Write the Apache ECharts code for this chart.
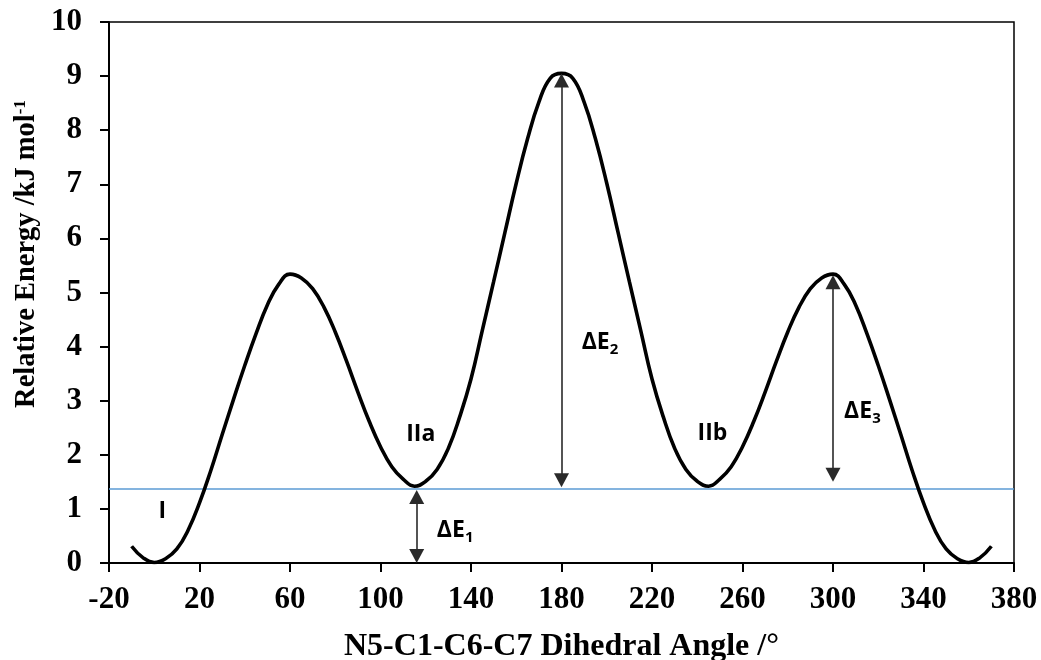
<!DOCTYPE html>
<html>
<head>
<meta charset="utf-8">
<script src="https://cdn.jsdelivr.net/npm/echarts@6/dist/echarts.min.js"></script>
<style>html,body{margin:0;padding:0;background:#fff}#c{width:1041px;height:660px}</style>
</head>
<body>
<div id="c"></div>
<script>
// Dihedral angle (degrees) and relative energy (kJ/mol)
const angles = [-10,-5,0,5,10,15,20,25,30,35,40,45,50,55,60,65,70,75,80,85,90,95,100,105,110,115,120,125,130,135,140,145,150,155,160,165,170,175,180,
  185,190,195,200,205,210,215,220,225,230,235,240,245,250,255,260,265,270,275,280,285,290,295,300,305,310,315,320,325,330,335,340,345,350,355,360,365,370];
const energies = [0.31,0.10,0.01,0.08,0.26,0.61,1.11,1.71,2.37,3.02,3.65,4.24,4.77,5.15,5.34,5.27,5.07,4.73,4.27,3.73,3.16,2.62,2.15,1.78,1.55,1.42,1.51,1.73,2.12,2.70,3.40,4.30,5.20,6.11,7.02,7.84,8.52,8.96,9.05,
  8.96,8.52,7.84,7.02,6.11,5.20,4.30,3.40,2.70,2.12,1.73,1.51,1.42,1.55,1.78,2.15,2.62,3.16,3.73,4.27,4.73,5.07,5.27,5.34,5.15,4.77,4.24,3.65,3.02,2.37,1.71,1.11,0.61,0.26,0.08,0.01,0.10,0.31];
// Horizontal reference level (blue line)
const refX = [-20, 380];
const refY = [1.37, 1.37];
// Double-headed arrows: [angle, fromEnergy, toEnergy] (arrow-head centres)
const arrows = [[116, 0.13, 1.22], [180, 1.53, 8.92], [300, 1.63, 5.19]];
// Text annotations
const noteText = ['I', 'IIa', 'IIb', '{b|ΔE}{s|1}', '{b|ΔE}{s|2}', '{b|ΔE}{s|3}'];
const noteX = [3.6, 117.8, 246.7, 133, 197, 313];
const noteY = [0.95, 2.38, 2.4, 0.6, 4.07, 2.8];
const xTicks = {min: -20, max: 380, interval: 40};
const yTicks = {min: 0, max: 10, interval: 1};
const xTitle = 'N5-C1-C6-C7 Dihedral Angle /°';
const yTitle = 'Relative Energy /kJ mol{sup|-1}';

const serif = '"Liberation Serif", "Times New Roman", serif';
const sans = '"Open Sans", "Noto Sans", sans-serif';
const chart = echarts.init(document.getElementById('c'), null, {renderer: 'canvas'});
chart.setOption({
  animation: false,
  backgroundColor: '#fff',
  grid: {left: 109, right: 27, top: 22, bottom: 97, show: true, borderColor: '#000', borderWidth: 1.5,
    containLabel: false, outerBoundsMode: 'none'},
  graphic: [{
    type: 'text', x: 27, y: 254, rotation: Math.PI / 2, silent: true,
    style: {
      text: yTitle, fill: '#000', align: 'center', verticalAlign: 'middle',
      font: 'bold 28.5px ' + serif,
      rich: {sup: {fontFamily: serif, fontWeight: 'bold', fontSize: 17, fill: '#000', padding: [0, 0, 12, 0]}}
    }
  }],
  xAxis: {
    type: 'value', min: xTicks.min, max: xTicks.max, interval: xTicks.interval,
    name: xTitle, nameLocation: 'middle', nameGap: 68,
    nameTextStyle: {fontFamily: serif, fontWeight: 'bold', fontSize: 32, color: '#000'},
    axisLine: {onZero: false, lineStyle: {color: '#000', width: 2}},
    axisTick: {length: 9, lineStyle: {color: '#000', width: 2}},
    axisLabel: {margin: 21, fontFamily: serif, fontWeight: 'bold', fontSize: 31, color: '#000'},
    splitLine: {show: false}
  },
  yAxis: {
    type: 'value', min: yTicks.min, max: yTicks.max, interval: yTicks.interval,
    axisLine: {onZero: false, lineStyle: {color: '#000', width: 2}},
    axisTick: {length: 9, lineStyle: {color: '#000', width: 2}},
    axisLabel: {margin: 27, fontFamily: serif, fontWeight: 'bold', fontSize: 31, color: '#000'},
    splitLine: {show: false}
  },
  series: [
    {
      type: 'line', showSymbol: false, symbol: 'none', silent: true,
      data: refX.map((x, i) => [x, refY[i]]),
      lineStyle: {color: '#5B9BD5', width: 1.5},
      z: 2
    },
    {
      type: 'line', smooth: 0.45, showSymbol: false, symbol: 'none', silent: true,
      data: angles.map((a, i) => [a, energies[i]]),
      lineStyle: {color: '#000', width: 3.6},
      z: 3
    },
    {
      type: 'line', data: [], silent: true,
      markLine: {
        silent: true, symbol: ['triangle', 'triangle'], symbolSize: [15, 14],
        label: {show: false},
        lineStyle: {color: '#2a2a2a', width: 1.6, type: 'solid'},
        data: arrows.map(a => [{coord: [a[0], a[1]]}, {coord: [a[0], a[2]]}])
      },
      z: 4
    },
    {
      type: 'scatter', symbolSize: 0, silent: true,
      itemStyle: {opacity: 1},
      emphasis: {disabled: true},
      data: noteText.map((t, i) => ({value: [noteX[i], noteY[i]], name: t})),
      label: {
        show: true, position: 'inside', formatter: p => p.name, opacity: 1,
        fontFamily: sans, fontWeight: 'bold', fontSize: 23, color: '#000',
        rich: {
          b: {fontFamily: sans, fontWeight: 'bold', fontSize: 23, color: '#000'},
          s: {fontFamily: sans, fontWeight: 'bold', fontSize: 15, color: '#000', padding: [14, 0, 0, 0]}
        }
      },
      z: 5
    }
  ]
});
</script>
</body>
</html>
